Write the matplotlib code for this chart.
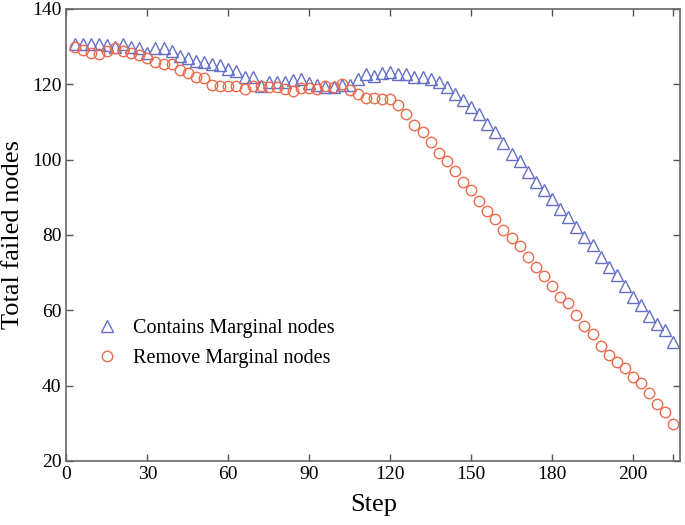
import numpy as np
import matplotlib
matplotlib.use('Agg')
import matplotlib.pyplot as plt

plt.rcParams['font.family'] = ['Liberation Serif', 'DejaVu Serif']

# steps 3, 6, ..., 225
step = np.arange(3, 226, 3)

contains = [130.7, 130.7, 130.7, 130.7, 130.4, 130.0, 130.7, 130.0, 129.5, 128.4,
            129.5, 129.5, 128.9, 127.5, 127.1, 126.3, 125.8, 125.3, 125.1, 124.0,
            123.4, 122.0, 121.9, 119.6, 120.5, 120.5, 120.7, 121.1, 121.4, 120.3,
            119.8, 119.2, 119.2, 119.8, 119.9, 121.3, 122.7, 122.3, 122.9, 123.3,
            122.7, 122.7, 121.8, 122.0, 121.4, 120.5, 119.2, 117.3, 115.8, 113.9,
            112.0, 109.4, 107.3, 104.3, 101.5, 99.6, 96.7, 94.0, 91.9, 89.5,
            86.8, 84.8, 82.0, 79.4, 77.2, 74.2, 71.6, 69.3, 66.4, 63.5,
            61.4, 58.5, 56.4, 54.7, 51.6]

removed = [129.8, 129.1, 128.4, 128.0, 128.9, 129.5, 128.9, 128.4, 127.8, 126.9,
           126.0, 125.3, 125.3, 123.8, 122.9, 122.0, 121.6, 119.8, 119.5, 119.5,
           119.5, 118.7, 119.6, 119.6, 119.2, 119.2, 118.7, 118.3, 118.9, 118.9,
           118.7, 119.6, 119.4, 120.0, 118.6, 117.5, 116.4, 116.4, 116.0, 116.0,
           114.5, 112.1, 109.1, 107.4, 104.6, 101.8, 99.7, 96.9, 94.1, 92.0,
           89.0, 86.3, 84.2, 81.4, 79.1, 77.0, 74.2, 71.4, 69.2, 66.4,
           63.6, 61.8, 58.7, 55.8, 53.6, 50.6, 48.1, 46.2, 44.7, 42.2,
           40.6, 38.1, 35.1, 33.0, 29.7]

xticks = [0, 30, 60, 90, 120, 150, 180, 210, 225]
xticklabels = ['0', '30', '60', '90', '120', '150', '180', '200', '']
yticks = [20, 40, 60, 80, 100, 120, 140]

fig = plt.figure(figsize=(6.85, 5.25), dpi=100)
ax = fig.add_axes([0.097, 0.122, 0.896, 0.861])

ax.plot(step, contains, linestyle='none', marker='^', markersize=8.5,
        markerfacecolor='none', markeredgecolor='#6470c8', markeredgewidth=1.0,
        label='Contains Marginal nodes')
ax.plot(step, removed, linestyle='none', marker='o', markersize=7.5,
        markerfacecolor='none', markeredgecolor='#ee6a4c', markeredgewidth=1.0,
        label='Remove Marginal nodes')

ax.set_xlim(0, 227.5)
ax.set_ylim(20, 140)
ax.set_xticks(xticks)
ax.set_xticklabels(xticklabels)
ax.set_yticks(yticks)
ax.tick_params(direction='in', length=5, width=1, colors='#555555',
               labelcolor='black', labelsize=14, top=True, right=True)
for s in ax.spines.values():
    s.set_color('#666666')
    s.set_linewidth(1.2)

ax.set_xlabel('Step', fontsize=19, labelpad=8)
ax.set_ylabel('Total failed nodes', fontsize=19, labelpad=6)

ax.legend(loc='center left', bbox_to_anchor=(0.05, 0.26), frameon=False,
          fontsize=14.5, handlelength=1.0, handletextpad=0.8, labelspacing=0.5,
          borderpad=0, borderaxespad=0)

fig.savefig('out.png', dpi=100)
